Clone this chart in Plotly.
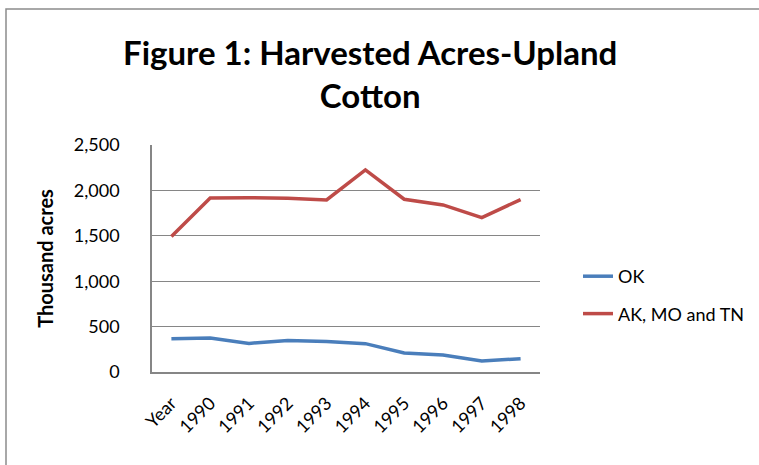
import plotly.graph_objects as go

categories = ["Year", "1990", "1991", "1992", "1993", "1994", "1995", "1996", "1997", "1998"]
ok_values = [367, 374, 315, 348, 337, 312, 209, 187, 121, 147]
ak_mo_tn_values = [1492, 1917, 1920, 1914, 1895, 2225, 1903, 1840, 1701, 1899]
y_ticks = [0, 500, 1000, 1500, 2000, 2500]

W, H = 759, 465
L, R, T, B = 152, 219, 145, 93
pw, ph = W - L - R, H - T - B

FONT = "Lato"

fig = go.Figure()
fig.add_trace(go.Scatter(x=categories, y=ok_values, name="OK", mode="lines", legendgroup="a",
                         line=dict(color="#4A7EBB", width=3.5)))
fig.add_trace(go.Scatter(x=categories, y=ak_mo_tn_values, name="AK, MO and TN", mode="lines",
                         legendgroup="b", line=dict(color="#BE4B48", width=3.5)))

# outer chart frame
fig.add_shape(type="rect", xref="paper", yref="paper",
              x0=(6 - L) / pw, x1=(W + 5 - L) / pw,
              y0=-(H + 5 - T - ph) / ph, y1=(H - 9 - B) / ph,
              line=dict(color="#8C8C8C", width=1.5), fillcolor="rgba(0,0,0,0)", layer="below")

# chart title
fig.add_annotation(text="<b>Figure 1: Harvested Acres-Upland<br>Cotton</b>",
                   xref="paper", yref="paper", x=(370 - L) / pw, y=(H - B - 73) / ph,
                   xanchor="center", yanchor="middle", showarrow=False, align="center",
                   font=dict(family=FONT, size=33, color="#000000"))

fig.update_layout(
    width=W, height=H,
    margin=dict(l=L, r=R, t=T, b=B, autoexpand=False),
    paper_bgcolor="white", plot_bgcolor="white",
    font=dict(family=FONT, color="#000000", size=18),
    showlegend=True,
    legend=dict(x=(578 - L) / pw, xanchor="left", y=(H - B - 270 + 12) / ph, yanchor="top",
                font=dict(family=FONT, size=18), tracegroupgap=11, traceorder="grouped",
                bgcolor="rgba(0,0,0,0)"),
)
fig.update_xaxes(type="category", categoryorder="array", categoryarray=categories,
                 range=[-0.5, len(categories) - 0.5], automargin=False,
                 tickangle=-45, showgrid=False, showline=True, linecolor="#868686", linewidth=1.5,
                 ticks="", ticklabelstandoff=12, tickfont=dict(family=FONT, size=18), zeroline=False)
fig.update_yaxes(range=[0, 2500], tickvals=y_ticks, tickformat=",", showgrid=True, automargin=False,
                 gridcolor="#868686", gridwidth=1, showline=True, linecolor="#868686", linewidth=1.5,
                 ticks="", ticklabelstandoff=27, tickfont=dict(family=FONT, size=18),
                 zeroline=False,
                 title=dict(text="<b>Thousand acres</b>", font=dict(family=FONT, size=20), standoff=15))

fig.write_html("out.html", config={"displayModeBar": False},
               post_script="document.body.style.margin='0';")
